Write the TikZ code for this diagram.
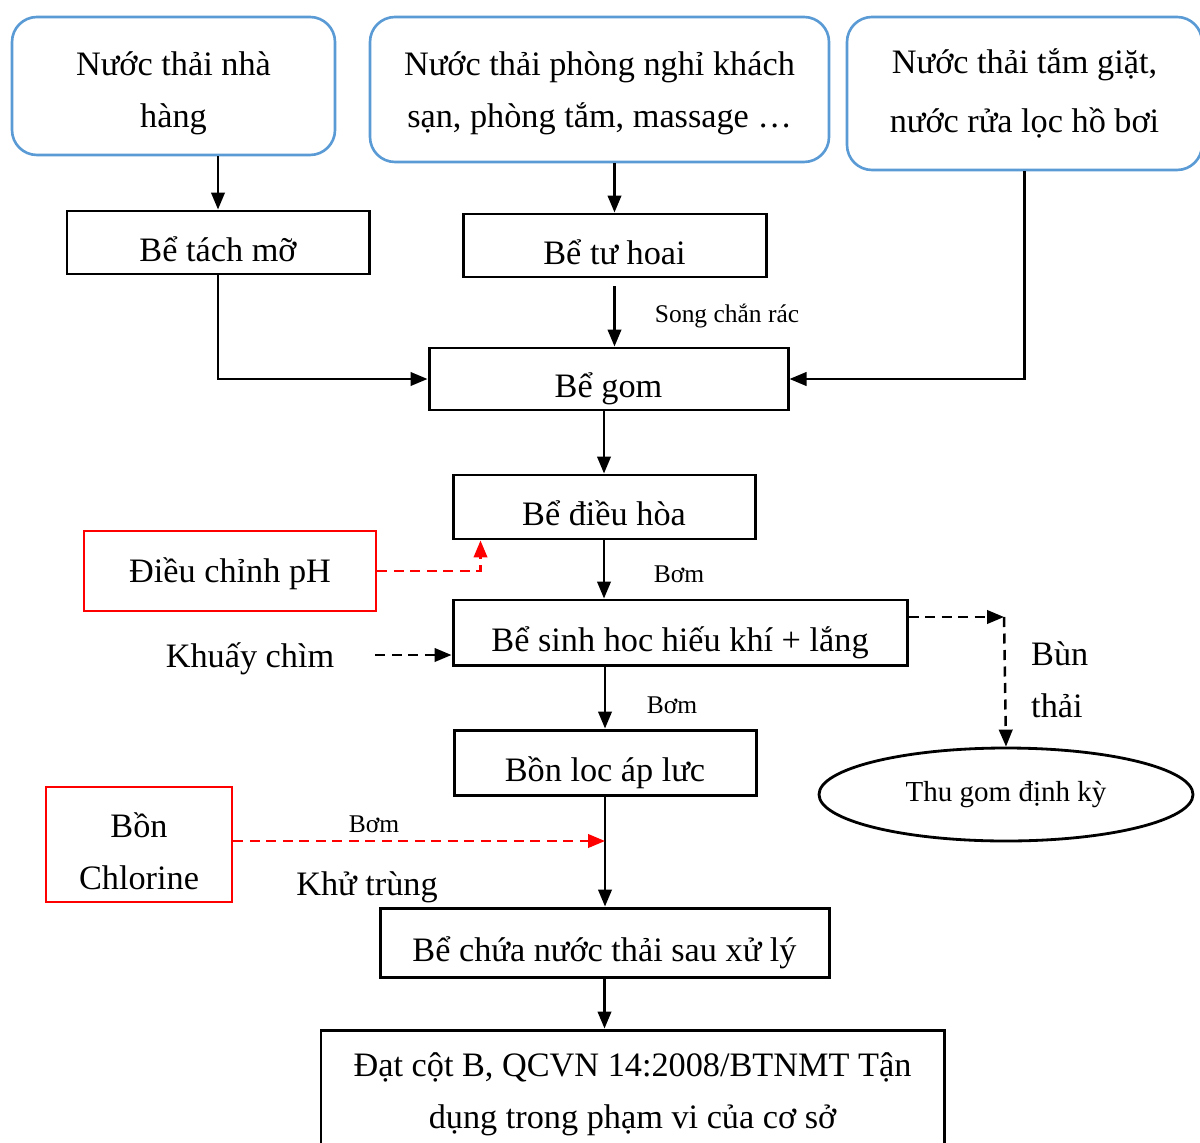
\documentclass[tikz,border=0pt]{standalone}
\usepackage{fontspec}
\setmainfont{Liberation Serif}
\usetikzlibrary{arrows.meta,calc,shapes.geometric}
\definecolor{srcblue}{HTML}{5B9BD5}
\definecolor{dosered}{HTML}{FF0000}
\newcommand{\toprow}[1]{\rule{0pt}{#1}}

\begin{document}
\begin{tikzpicture}[
    every node/.style={font=\fontsize{19.5}{29.6}\selectfont},
    source/.style={draw=srcblue,line width=1.5pt,rounded corners=0.5cm,align=center,inner sep=0pt},
    frame/.style={draw,line width=1.7pt,align=center,inner sep=0pt},
    tank/.style={frame,text height=0.9cm,text depth=0.15cm},
    dose/.style={draw=dosered,line width=1.6pt,align=center,inner sep=0pt},
    note/.style={font=\fontsize{14.5}{18}\selectfont},
    flow/.style={-{Triangle[length=3.4mm,width=2.7mm]},line width=1.4pt},
    feed/.style={flow,dash pattern=on 2mm off 1.3mm},
    redfeed/.style={feed,dosered}
]
\useasboundingbox (0,0) rectangle (24,-22.84);

% Sources
\node[source,minimum width=6.46cm,minimum height=2.76cm] (src1) at (3.47,-1.72) {\toprow{0.77cm}Nước thải nhà\\hàng};
\node[source,minimum width=9.18cm,minimum height=2.9cm]  (src2) at (11.99,-1.79) {\toprow{0.62cm}Nước thải phòng nghỉ khách\\sạn, phòng tắm, massage \dots};
\node[source,minimum width=7.1cm,minimum height=3.06cm,font=\fontsize{19.5}{33.6}\selectfont] (src3) at (20.49,-1.87) {Nước thải tắm giặt,\\nước rửa lọc hồ bơi};

% Treatment line
\node[tank,minimum width=6.04cm,minimum height=1.26cm] (tachmo)  at (4.36,-4.85)  {Bể tách mỡ};
\node[tank,minimum width=6.06cm,minimum height=1.26cm] (tuhoai)  at (12.29,-4.91) {Bể tư hoai};
\node[tank,minimum width=7.18cm,minimum height=1.24cm] (gom)     at (12.17,-7.58) {Bể gom};
\node[tank,minimum width=6.04cm,minimum height=1.28cm] (dieuhoa) at (12.08,-10.14) {Bể điều hòa};
\node[tank,minimum width=9.08cm,minimum height=1.3cm]  (sinhhoc) at (13.6,-12.65) {Bể sinh hoc hiếu khí + lắng};
\node[tank,minimum width=6.04cm,minimum height=1.3cm]  (locap)   at (12.1,-15.25) {Bồn loc áp lưc};
\node[tank,minimum width=8.98cm,minimum height=1.38cm] (chua)    at (12.09,-18.85) {Bể chứa nước thải sau xử lý};
\node[frame,minimum width=12.46cm,minimum height=2.4cm] (dat)    at (12.65,-21.8) {\toprow{0.64cm}Đạt cột B, QCVN 14:2008/BTNMT Tận\\dụng trong phạm vi của cơ sở};

% Chemicals and sludge
\node[dose,minimum width=5.84cm,minimum height=1.6cm,text height=0.55cm,text depth=0.1cm] (ph) at (4.6,-11.42) {Điều chỉnh pH};
\node[dose,minimum width=3.72cm,minimum height=2.3cm] (clo) at (2.78,-16.89) {\toprow{0.75cm}Bồn\\Chlorine};
\node[draw,ellipse,line width=1.6pt,minimum width=7.48cm,minimum height=1.86cm,font=\fontsize{16.5}{20}\selectfont] (thugom) at (20.12,-15.89) {Thu gom định kỳ};

% Labels
\node[note] (song) at (14.54,-6.32) {Song chắn rác};
\node[note] (bom1) at (13.58,-11.48) {Bơm};
\node[note] (bom2) at (13.44,-14.1) {Bơm};
\node[note] (bom3) at (7.48,-16.48) {Bơm};
\node (khuay) at (5.0,-13.18) {Khuấy chìm};
\node (khutrung) at (7.34,-17.74) {Khử trùng};
\node[align=left,anchor=west] (bun) at (20.5,-13.6) {Bùn\\thải};
\coordinate (bunc) at (20.08,-12.34);

\draw[flow] (src1.south -| tachmo.north) -- (tachmo.north);
\draw[flow] (src2.south -| tuhoai.north) -- (tuhoai.north);
\draw[flow] (tachmo.south) |- (gom.west);
\draw[flow] ($(tuhoai.south)+(0,-0.16)$) -- (tuhoai.south |- gom.north);
\draw[flow] (src3.south) |- (gom.east);
\draw[flow] (gom.south -| dieuhoa.south) -- (dieuhoa.north);
\draw[flow] (dieuhoa.south) -- (dieuhoa.south |- sinhhoc.north);
\draw[flow] (locap.north |- sinhhoc.south) -- (locap.north);
\draw[flow] (locap.south) -- (locap.south |- chua.north);
\draw[flow] (chua.south) -- (chua.south |- dat.north);

% Dosing and sludge
\draw[redfeed] (ph.east) -| ($(dieuhoa.south west)+(0.58,0)$);
\draw[feed,shorten <=0.7cm] (khuay.east |- 0,-13.1) -- (sinhhoc.west |- 0,-13.1);
\draw[feed] (sinhhoc.east |- bunc) -- (bunc);
\draw[feed] (bunc) -- (thugom.north);
\draw[redfeed] (clo.east |- 0,-16.82) -- (locap.south |- 0,-16.82);
\end{tikzpicture}
\end{document}
